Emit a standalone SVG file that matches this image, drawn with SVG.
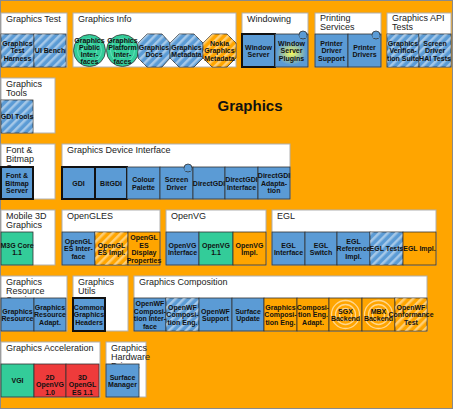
<svg xmlns="http://www.w3.org/2000/svg" width="453" height="409" viewBox="0 0 453 409">
<style>
.grp{fill:#fff;stroke:#b0b0b0;stroke-width:1}
.t{font-family:"Liberation Sans",Arial,sans-serif;font-size:9px;fill:#222}
.n{font-family:"Liberation Sans",Arial,sans-serif;font-size:7px;font-weight:bold;fill:#111;text-anchor:middle}
.b{fill:#5b9bd5;stroke:#333;stroke-width:0.8}
.g{fill:#33cc99;stroke:#333;stroke-width:0.8}
.o{fill:#ffa500;stroke:#333;stroke-width:0.8}
.r{fill:#ee3b3b;stroke:#333;stroke-width:0.8}
.k{stroke:#111;stroke-width:2}
.h{fill:url(#hatch);stroke:none}
.ring{fill:none;stroke:#fff;stroke-opacity:0.55;stroke-width:1.3}
.gring{fill:none;stroke:#66e0b8;stroke-width:1}
</style>
<defs>
<pattern id="hatch" width="6" height="6" patternUnits="userSpaceOnUse" patternTransform="rotate(45)">
<rect x="0" y="0" width="2.5" height="6" fill="#fff" fill-opacity="0.45"/>
</pattern>
<radialGradient id="glow">
<stop offset="0" stop-color="#ffff55" stop-opacity="0.95"/>
<stop offset="1" stop-color="#ffff55" stop-opacity="0"/>
</radialGradient>
</defs>
<rect x="0.5" y="0.5" width="452" height="408" fill="#ffa500" stroke="#8a8a8a"/>
<text x="250" y="111" style="font-family:'Liberation Sans',Arial,sans-serif;font-size:15px;font-weight:bold;fill:#111" text-anchor="middle">Graphics</text>

<g id="connectors"></g>

<!-- Group boxes -->
<g id="g-graphics-test"><rect class="grp" x="1" y="13" width="66" height="54"/><text class="t" x="6" y="22">Graphics Test</text></g>
<g id="g-graphics-info"><rect class="grp" x="73" y="13" width="163" height="54"/><text class="t" x="78" y="22">Graphics Info</text></g>
<g id="g-windowing"><rect class="grp" x="242" y="13" width="66" height="54"/><text class="t" x="247" y="22">Windowing</text></g>
<g id="g-printing"><rect class="grp" x="315" y="13" width="66" height="54"/><text class="t" x="320" y="21">Printing<tspan x="320" y="30">Services</tspan></text></g>
<g id="g-api-tests"><rect class="grp" x="387" y="13" width="64" height="54"/><text class="t" x="392" y="21">Graphics API<tspan x="392" y="30">Tests</tspan></text></g>
<g id="g-tools"><rect class="grp" x="1" y="78" width="54" height="55"/><text class="t" x="6" y="87">Graphics<tspan x="6" y="96">Tools</tspan></text></g>
<g id="g-fbs"><rect class="grp" x="1" y="144" width="54" height="55"/><text class="t" x="6" y="153">Font &amp;<tspan x="6" y="162">Bitmap</tspan><tspan x="6" y="171">Server</tspan></text></g>
<g id="g-gdi"><rect class="grp" x="62" y="144" width="228" height="55"/><text class="t" x="67" y="153">Graphics Device Interface</text></g>
<g id="g-m3d"><rect class="grp" x="1" y="210" width="54" height="55"/><text class="t" x="6" y="219">Mobile 3D<tspan x="6" y="228">Graphics</tspan></text></g>
<g id="g-opengles"><rect class="grp" x="62" y="210" width="98" height="55"/><text class="t" x="67" y="219">OpenGLES</text></g>
<g id="g-openvg"><rect class="grp" x="166" y="210" width="100" height="55"/><text class="t" x="171" y="219">OpenVG</text></g>
<g id="g-egl"><rect class="grp" x="272" y="210" width="164" height="55"/><text class="t" x="277" y="219">EGL</text></g>
<g id="g-resource"><rect class="grp" x="1" y="276" width="66" height="55"/><text class="t" x="6" y="285">Graphics<tspan x="6" y="294">Resource</tspan><tspan x="6" y="303">Services</tspan></text></g>
<g id="g-utils"><rect class="grp" x="73" y="276" width="55" height="55"/><text class="t" x="78" y="285">Graphics<tspan x="78" y="294">Utils</tspan></text></g>
<g id="g-composition"><rect class="grp" x="134" y="276" width="293" height="55"/><text class="t" x="139" y="285">Graphics Composition</text></g>
<g id="g-accel"><rect class="grp" x="1" y="342" width="99" height="55"/><text class="t" x="6" y="351">Graphics Acceleration</text></g>
<g id="g-hw"><rect class="grp" x="106" y="342" width="40" height="55"/><text class="t" x="111" y="351">Graphics<tspan x="111" y="360">Hardware</tspan><tspan x="111" y="369">Drivers</tspan></text></g>

<!-- Row 1 -->
<g id="n-test-harness" transform="translate(1,34)"><rect class="b" width="33" height="33"/><rect class="h" width="33" height="33"/><text class="n"><tspan x="16.5" y="11.5">Graphics</tspan><tspan x="16.5" y="19">Test</tspan><tspan x="16.5" y="26.5">Harness</tspan></text></g>
<g id="n-ui-bench" transform="translate(34,34)"><rect class="b" width="32" height="33"/><rect class="h" width="32" height="33"/><text class="n"><tspan x="16" y="19">UI Bench</tspan></text></g>
<g id="n-public-if" transform="translate(73,34)"><circle class="g" cx="16.5" cy="16.5" r="16"/><circle class="gring" cx="16.5" cy="16.5" r="12"/><circle class="gring" cx="16.5" cy="16.5" r="7"/><text class="n"><tspan x="16.5" y="9">Graphics</tspan><tspan x="16.5" y="16">Public</tspan><tspan x="16.5" y="23">Inter-</tspan><tspan x="16.5" y="30">faces</tspan></text></g>
<g id="n-platform-if" transform="translate(106,34)"><circle class="g" cx="16.5" cy="16.5" r="16"/><circle class="gring" cx="16.5" cy="16.5" r="12"/><circle class="gring" cx="16.5" cy="16.5" r="7"/><text class="n"><tspan x="16.5" y="9">Graphics</tspan><tspan x="16.5" y="16">Platform</tspan><tspan x="16.5" y="23">Inter-</tspan><tspan x="16.5" y="30">faces</tspan></text></g>
<g id="n-docs" transform="translate(138,34)"><polygon class="b" points="9,0 24,0 32,9 32,24 24,33 9,33 0,24 0,9"/><polygon class="h" points="9,0 24,0 32,9 32,24 24,33 9,33 0,24 0,9"/><text class="n"><tspan x="16" y="15.5">Graphics</tspan><tspan x="16" y="23">Docs</tspan></text></g>
<g id="n-metadata" transform="translate(170,34)"><polygon class="b" points="9,0 24,0 33,9 33,24 24,33 9,33 0,24 0,9"/><polygon class="h" points="9,0 24,0 33,9 33,24 24,33 9,33 0,24 0,9"/><text class="n"><tspan x="16.5" y="15.5">Graphics</tspan><tspan x="16.5" y="23">Metadata</tspan></text></g>
<g id="n-nokia-metadata" transform="translate(203,34)"><polygon class="o" points="9,0 24,0 33,9 33,24 24,33 9,33 0,24 0,9"/><polygon class="h" points="9,0 24,0 33,9 33,24 24,33 9,33 0,24 0,9"/><text class="n"><tspan x="16.5" y="11.5">Nokia</tspan><tspan x="16.5" y="19">Graphics</tspan><tspan x="16.5" y="26.5">Metadata</tspan></text></g>
<g id="n-window-server" transform="translate(242,34)"><rect class="b k" width="33" height="33"/><text class="n"><tspan x="16.5" y="15.5">Window</tspan><tspan x="16.5" y="23">Server</tspan></text></g>
<g id="n-ws-plugins" transform="translate(275,34)"><rect class="b" width="33" height="33"/><ellipse cx="16.5" cy="19" rx="15" ry="12" fill="url(#glow)"/><circle cx="28" cy="1" r="4" fill="#5b9bd5" stroke="#333" stroke-width="0.8"/><rect x="24.5" y="1" width="7" height="3" fill="#5b9bd5"/><text class="n"><tspan x="16.5" y="11.5">Window</tspan><tspan x="16.5" y="19">Server</tspan><tspan x="16.5" y="26.5">Plugins</tspan></text></g>
<g id="n-printer-driver-support" transform="translate(315,34)"><rect class="b" width="33" height="33"/><text class="n"><tspan x="16.5" y="11.5">Printer</tspan><tspan x="16.5" y="19">Driver</tspan><tspan x="16.5" y="26.5">Support</tspan></text></g>
<g id="n-printer-drivers" transform="translate(348,34)"><rect class="b" width="33" height="33"/><circle cx="28" cy="1" r="4" fill="#5b9bd5" stroke="#333" stroke-width="0.8"/><rect x="24.5" y="1" width="7" height="3" fill="#5b9bd5"/><text class="n"><tspan x="16.5" y="15.5">Printer</tspan><tspan x="16.5" y="23">Drivers</tspan></text></g>
<g id="n-verification" transform="translate(387,34)"><rect class="b" width="32" height="33"/><rect class="h" width="32" height="33"/><text class="n"><tspan x="16" y="11.5">Graphics</tspan><tspan x="16" y="19">Verifica-</tspan><tspan x="16" y="26.5">tion Suite</tspan></text></g>
<g id="n-hai-tests" transform="translate(419,34)"><rect class="b" width="32" height="33"/><rect class="h" width="32" height="33"/><text class="n"><tspan x="16" y="11.5">Screen</tspan><tspan x="16" y="19">Driver</tspan><tspan x="16" y="26.5">HAI Tests</tspan></text></g>

<!-- Row 2 -->
<g id="n-gdi-tools" transform="translate(1,100)"><rect class="b" width="32" height="33"/><rect class="h" width="32" height="33"/><text class="n"><tspan x="16" y="19">GDI Tools</tspan></text></g>

<!-- Row 3 -->
<g id="n-fbserv" transform="translate(1,167)"><rect class="b k" width="32" height="32"/><text class="n"><tspan x="16" y="11">Font &amp;</tspan><tspan x="16" y="18.5">Bitmap</tspan><tspan x="16" y="26">Server</tspan></text></g>
<g id="n-gdi" transform="translate(62,167)"><rect class="b k" width="33" height="32"/><text class="n"><tspan x="16.5" y="18.5">GDI</tspan></text></g>
<g id="n-bitgdi" transform="translate(95,167)"><rect class="b k" width="32" height="32"/><text class="n"><tspan x="16" y="18.5">BitGDI</tspan></text></g>
<g id="n-colour-palette" transform="translate(127,167)"><rect class="b" width="33" height="32"/><text class="n"><tspan x="16.5" y="15">Colour</tspan><tspan x="16.5" y="22.5">Palette</tspan></text></g>
<g id="n-screen-driver" transform="translate(160,167)"><rect class="b" width="33" height="32"/><circle cx="28" cy="1" r="4" fill="#5b9bd5" stroke="#333" stroke-width="0.8"/><rect x="24.5" y="1" width="7" height="3" fill="#5b9bd5"/><text class="n"><tspan x="16.5" y="15">Screen</tspan><tspan x="16.5" y="22.5">Driver</tspan></text></g>
<g id="n-directgdi" transform="translate(193,167)"><rect class="b" width="32" height="32"/><text class="n"><tspan x="16" y="18.5">DirectGDI</tspan></text></g>
<g id="n-directgdi-if" transform="translate(225,167)"><rect class="b" width="33" height="32"/><text class="n"><tspan x="16.5" y="15">DirectGDI</tspan><tspan x="16.5" y="22.5">Interface</tspan></text></g>
<g id="n-directgdi-adapt" transform="translate(258,167)"><rect class="b" width="32" height="32"/><text class="n"><tspan x="16" y="11">DirectGDI</tspan><tspan x="16" y="18.5">Adapta-</tspan><tspan x="16" y="26">tion</tspan></text></g>

<!-- Row 4 -->
<g id="n-m3g" transform="translate(1,232)"><rect class="g" width="32" height="33"/><text class="n"><tspan x="16" y="15.5">M3G Core</tspan><tspan x="16" y="23">1.1</tspan></text></g>
<g id="n-gles-if" transform="translate(62,232)"><rect class="b" width="33" height="33"/><text class="n"><tspan x="16.5" y="11.5">OpenGL</tspan><tspan x="16.5" y="19">ES Inter-</tspan><tspan x="16.5" y="26.5">face</tspan></text></g>
<g id="n-gles-impl" transform="translate(95,232)"><rect class="o" width="33" height="33"/><rect class="h" width="33" height="33"/><text class="n"><tspan x="16.5" y="15.5">OpenGL</tspan><tspan x="16.5" y="23">ES Impl.</tspan></text></g>
<g id="n-gles-display" transform="translate(128,232)"><rect class="o" width="32" height="33"/><text class="n"><tspan x="16" y="8">OpenGL</tspan><tspan x="16" y="15.5">ES</tspan><tspan x="16" y="23">Display</tspan><tspan x="16" y="30.5">Properties</tspan></text></g>
<g id="n-vg-if" transform="translate(166,232)"><rect class="b" width="33" height="33"/><text class="n"><tspan x="16.5" y="15.5">OpenVG</tspan><tspan x="16.5" y="23">Interface</tspan></text></g>
<g id="n-vg11" transform="translate(199,232)"><rect class="g" width="34" height="33"/><text class="n"><tspan x="17" y="15.5">OpenVG</tspan><tspan x="17" y="23">1.1</tspan></text></g>
<g id="n-vg-impl" transform="translate(233,232)"><rect class="o" width="33" height="33"/><text class="n"><tspan x="16.5" y="15.5">OpenVG</tspan><tspan x="16.5" y="23">Impl.</tspan></text></g>
<g id="n-egl-if" transform="translate(272,232)"><rect class="b" width="33" height="33"/><text class="n"><tspan x="16.5" y="15.5">EGL</tspan><tspan x="16.5" y="23">Interface</tspan></text></g>
<g id="n-egl-switch" transform="translate(305,232)"><rect class="b" width="32" height="33"/><text class="n"><tspan x="16" y="15.5">EGL</tspan><tspan x="16" y="23">Switch</tspan></text></g>
<g id="n-egl-ref" transform="translate(337,232)"><rect class="b" width="33" height="33"/><text class="n"><tspan x="16.5" y="11.5">EGL</tspan><tspan x="16.5" y="19">Reference</tspan><tspan x="16.5" y="26.5">Impl.</tspan></text></g>
<g id="n-egl-tests" transform="translate(370,232)"><rect class="b" width="33" height="33"/><rect class="h" width="33" height="33"/><text class="n"><tspan x="16.5" y="19">EGL Tests</tspan></text></g>
<g id="n-egl-impl" transform="translate(403,232)"><rect class="o" width="33" height="33"/><text class="n"><tspan x="16.5" y="19">EGL Impl.</tspan></text></g>

<!-- Row 5 -->
<g id="n-gres" transform="translate(1,298)"><rect class="b" width="33" height="33"/><text class="n"><tspan x="16.5" y="15.5">Graphics</tspan><tspan x="16.5" y="23">Resource</tspan></text></g>
<g id="n-gres-adapt" transform="translate(34,298)"><rect class="b" width="32" height="33"/><text class="n"><tspan x="16" y="11.5">Graphics</tspan><tspan x="16" y="19">Resource</tspan><tspan x="16" y="26.5">Adapt.</tspan></text></g>
<g id="n-common-headers" transform="translate(73,298)"><rect class="b k" width="32" height="33"/><text class="n"><tspan x="16" y="11.5">Common</tspan><tspan x="16" y="19">Graphics</tspan><tspan x="16" y="26.5">Headers</tspan></text></g>
<g id="n-owf-if" transform="translate(134,298)"><rect class="b" width="32" height="33"/><text class="n"><tspan x="16" y="8">OpenWF</tspan><tspan x="16" y="15.5">Composi-</tspan><tspan x="16" y="23">tion Inter-</tspan><tspan x="16" y="30.5">face</tspan></text></g>
<g id="n-owf-eng" transform="translate(166,298)"><rect class="b" width="33" height="33"/><rect class="h" width="33" height="33"/><text class="n"><tspan x="16.5" y="11.5">OpenWF</tspan><tspan x="16.5" y="19">Composi-</tspan><tspan x="16.5" y="26.5">tion Eng.</tspan></text></g>
<g id="n-owf-support" transform="translate(199,298)"><rect class="b" width="33" height="33"/><text class="n"><tspan x="16.5" y="15.5">OpenWF</tspan><tspan x="16.5" y="23">Support</tspan></text></g>
<g id="n-surface-update" transform="translate(232,298)"><rect class="b" width="32" height="33"/><text class="n"><tspan x="16" y="15.5">Surface</tspan><tspan x="16" y="23">Update</tspan></text></g>
<g id="n-gce" transform="translate(264,298)"><rect class="o" width="33" height="33"/><text class="n"><tspan x="16.5" y="11.5">Graphics</tspan><tspan x="16.5" y="19">Composi-</tspan><tspan x="16.5" y="26.5">tion Eng.</tspan></text></g>
<g id="n-ce-adapt" transform="translate(297,298)"><rect class="o" width="32" height="33"/><text class="n"><tspan x="16" y="11.5">Composi-</tspan><tspan x="16" y="19">tion Eng.</tspan><tspan x="16" y="26.5">Adapt.</tspan></text></g>
<g id="n-sgx" transform="translate(329,298)"><rect class="o" width="33" height="33"/><circle class="ring" cx="16.5" cy="16.5" r="14"/><circle class="ring" cx="16.5" cy="16.5" r="10"/><circle class="ring" cx="16.5" cy="16.5" r="6"/><text class="n"><tspan x="16.5" y="15.5">SGX</tspan><tspan x="16.5" y="23">Backend</tspan></text></g>
<g id="n-mbx" transform="translate(362,298)"><rect class="o" width="33" height="33"/><circle class="ring" cx="16.5" cy="16.5" r="14"/><circle class="ring" cx="16.5" cy="16.5" r="10"/><circle class="ring" cx="16.5" cy="16.5" r="6"/><text class="n"><tspan x="16.5" y="15.5">MBX</tspan><tspan x="16.5" y="23">Backend</tspan></text></g>
<g id="n-owf-conf" transform="translate(395,298)"><rect class="o" width="32" height="33"/><rect class="h" width="32" height="33"/><text class="n"><tspan x="16" y="11.5">OpenWF</tspan><tspan x="16" y="19">Conformance</tspan><tspan x="16" y="26.5">Test</tspan></text></g>

<!-- Row 6 -->
<g id="n-vgi" transform="translate(1,364)"><rect class="g" width="33" height="33"/><text class="n"><tspan x="16.5" y="19">VGI</tspan></text></g>
<g id="n-2d-openvg" transform="translate(34,364)"><rect class="r" width="32" height="33"/><text class="n"><tspan x="16" y="15.5">2D</tspan><tspan x="16" y="23">OpenVG</tspan><tspan x="16" y="30.5">1.0</tspan></text></g>
<g id="n-3d-opengles" transform="translate(66,364)"><rect class="r" width="33" height="33"/><text class="n"><tspan x="16.5" y="15.5">3D</tspan><tspan x="16.5" y="23">OpenGL</tspan><tspan x="16.5" y="30.5">ES 1.1</tspan></text></g>
<g id="n-surface-manager" transform="translate(106,364)"><rect class="b" width="33" height="33"/><text class="n"><tspan x="16.5" y="15.5">Surface</tspan><tspan x="16.5" y="23">Manager</tspan></text></g>
</svg>
